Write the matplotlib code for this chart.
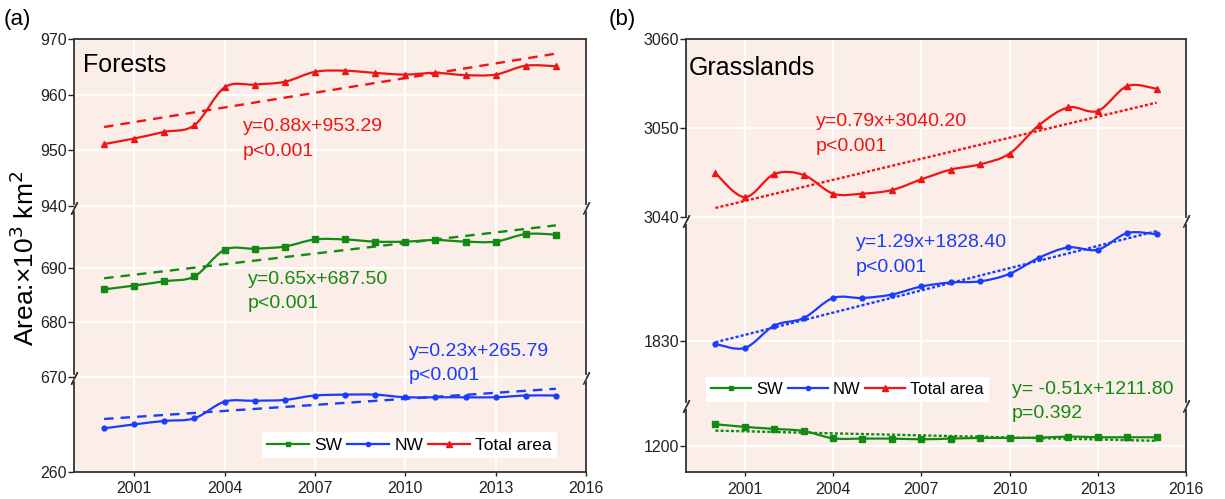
import numpy as np
import matplotlib.pyplot as plt
from matplotlib.path import Path
from matplotlib.patches import PathPatch
from matplotlib.lines import Line2D

plt.rcParams['font.family'] = ['Liberation Sans', 'DejaVu Sans']

years = list(range(2000, 2016))
reg_x = list(range(1, 17))  # x used by the regression equations

# (a) Forests, area in 10^3 km2
forest_total = [951.1, 952.1, 953.3, 954.5, 961.3, 961.8, 962.3, 964.1,
                964.3, 963.9, 963.6, 963.9, 963.5, 963.6, 965.2, 965.1]
forest_sw = [686.1, 686.8, 687.6, 688.5, 693.4, 693.6, 694.0, 695.3,
             695.3, 694.9, 694.9, 695.2, 694.9, 694.9, 696.3, 696.2]
forest_nw = [264.95, 265.4, 265.8, 266.1, 268.0, 268.1, 268.2, 268.7,
             268.8, 268.8, 268.5, 268.5, 268.5, 268.5, 268.7, 268.7]

# (b) Grasslands
grass_total = [3044.9, 3042.2, 3044.8, 3044.7, 3042.6, 3042.6, 3043.0, 3044.2,
               3045.3, 3045.9, 3047.1, 3050.3, 3052.3, 3051.9, 3054.7, 3054.4]
grass_nw = [1829.4, 1828.7, 1832.6, 1833.9, 1837.4, 1837.4, 1838.0, 1839.4,
            1840.1, 1840.3, 1841.6, 1844.4, 1846.2, 1845.8, 1848.7, 1848.5]
grass_sw = [1216.1, 1214.1, 1212.6, 1211.0, 1205.5, 1205.3, 1205.3, 1204.8,
            1205.3, 1205.8, 1205.8, 1206.0, 1206.8, 1206.3, 1206.3, 1206.3]

# linear fits (slope, intercept, p text)
fits = {
    'forest_total': (0.88, 953.29, 'p<0.001'),
    'forest_sw': (0.65, 687.50, 'p<0.001'),
    'forest_nw': (0.23, 265.79, 'p<0.001'),
    'grass_total': (0.79, 3040.20, 'p<0.001'),
    'grass_nw': (1.29, 1828.40, 'p<0.001'),
    'grass_sw': (-0.51, 1211.80, 'p=0.392'),
}

xticks = [2001, 2004, 2007, 2010, 2013, 2016]

RED = '#f01414'
GREEN = '#138a13'
BLUE = '#1a3cff'
BG = '#fbeee8'
SPINE = '#333333'

W, H = 1225, 499
fig = plt.figure(figsize=(W / 100, H / 100), dpi=100)


def add_ax(l, r, top, bot):
    return fig.add_axes([l / W, 1 - bot / H, (r - l) / W, (bot - top) / H])


def smooth_line(ax, x, y, color):
    # Catmull-Rom style bezier through the data points
    x = np.asarray(x, float)
    y = np.asarray(y, float)
    xp = np.r_[x[0], x, x[-1]]
    yp = np.r_[y[0], y, y[-1]]
    verts = [(x[0], y[0])]
    codes = [Path.MOVETO]
    for i in range(len(x) - 1):
        c1 = (x[i] + (xp[i + 2] - xp[i]) / 6, y[i] + (yp[i + 2] - yp[i]) / 6)
        c2 = (x[i + 1] - (xp[i + 3] - xp[i + 1]) / 6,
              y[i + 1] - (yp[i + 3] - yp[i + 1]) / 6)
        verts += [c1, c2, (x[i + 1], y[i + 1])]
        codes += [Path.CURVE4] * 3
    ax.add_patch(PathPatch(Path(verts, codes), fill=False, ec=color, lw=1.6,
                           zorder=3))


def draw_series(ax, y, color, marker, ms, fit, dashes):
    smooth_line(ax, years, y, color)
    ax.plot(years, y, ls='none', marker=marker, ms=ms, color=color, zorder=4)
    k, b, _ = fit
    fx = [years[0], years[-1]]
    fy = [k * reg_x[0] + b, k * reg_x[-1] + b]
    ax.plot(fx, fy, color=color, lw=1.7, dashes=dashes, zorder=3)


def broken_panel(l, r, segs):
    axes = []
    n = len(segs)
    for i, (top, bot, ylim, yt) in enumerate(segs):
        ax = add_ax(l, r, top, bot)
        ax.set_facecolor(BG)
        ax.set_xlim(1999, 2016)
        ax.set_ylim(*ylim)
        ax.set_xticks(xticks)
        ax.set_yticks(yt)
        ax.grid(True, color='white', lw=1.6)
        ax.set_axisbelow(True)
        ax.tick_params(axis='y', direction='out', length=4, width=1,
                       labelsize=11.5, colors='#222222', pad=1)
        ax.tick_params(axis='x', direction='out', length=3, width=1,
                       labelsize=11.5, colors='#222222', pad=4)
        for s in ax.spines.values():
            s.set_color(SPINE)
            s.set_linewidth(1.3)
        gap = (ylim[1] - ylim[0]) / (bot - top) * 4
        lo = ylim[0] + (gap if i < n - 1 else 0)
        hi = ylim[1] - (gap if i > 0 else 0)
        for side in ('left', 'right'):
            ax.spines[side].set_bounds(lo, hi)
        if i < n - 1:
            ax.spines['bottom'].set_visible(False)
            ax.tick_params(axis='x', bottom=False, labelbottom=False)
            ax.plot([0, 1], [0, 0], transform=ax.transAxes, ls='none',
                    marker=[(-0.5, -1), (0.5, 1)], ms=9, mew=1.1,
                    color=SPINE, clip_on=False, zorder=6)
        if i > 0:
            ax.spines['top'].set_visible(False)
            ax.plot([0, 1], [1, 1], transform=ax.transAxes, ls='none',
                    marker=[(-0.5, -1), (0.5, 1)], ms=9, mew=1.1,
                    color=SPINE, clip_on=False, zorder=6)
        axes.append(ax)
    return axes


def fig_text(x, y, s, color='black', size=14):
    fig.text(x / W, 1 - y / H, s, color=color, fontsize=size,
             ha='left', va='center')


# ---- (a) Forests ----
a_up, a_mid, a_low = broken_panel(74, 586, [
    (39, 208, (939.6, 970), [940, 950, 960, 970]),
    (208, 378, (669.76, 701.1), [670, 680, 690]),
    (378, 471.7, (260, 270.7), [260]),
])
draw_series(a_up, forest_total, RED, '^', 5, fits['forest_total'], (4, 3))
draw_series(a_mid, forest_sw, GREEN, 's', 4, fits['forest_sw'], (4, 3))
draw_series(a_low, forest_nw, BLUE, 'o', 3.5, fits['forest_nw'], (4, 3))

# ---- (b) Grasslands ----
b_up, b_mid, b_low = broken_panel(686, 1186, [
    (39, 221, (3039.52, 3060), [3040, 3050, 3060]),
    (221, 406, (1818.6, 1850.8), [1830]),
    (406, 472, (1180.2, 1229.8), [1200]),
])
draw_series(b_up, grass_total, RED, '^', 5, fits['grass_total'], (1.3, 0.9))
draw_series(b_mid, grass_nw, BLUE, 'o', 3.5, fits['grass_nw'], (1.3, 0.9))
draw_series(b_low, grass_sw, GREEN, 's', 4, fits['grass_sw'], (1.3, 0.9))


def eq(key):
    k, b, _ = fits[key]
    if k < 0:
        return 'y= %.2fx+%.2f' % (k, b)
    return 'y=%.2fx+%.2f' % (k, b)


# labels
fig_text(4, 19, '(a)', size=16)
fig_text(609, 19, '(b)', size=16)
fig_text(83, 65, 'Forests', size=18)
fig_text(689, 68, 'Grasslands', size=18)

notes = [
    (243, 127, 'forest_total', RED),
    (248, 280, 'forest_sw', GREEN),
    (409, 352, 'forest_nw', BLUE),
    (816, 122, 'grass_total', RED),
    (856, 243, 'grass_nw', BLUE),
    (1012, 390, 'grass_sw', GREEN),
]
for x, y, key, c in notes:
    fig_text(x, y, eq(key), color=c)
    fig_text(x, y + 24, fits[key][2], color=c)

fig.text(25 / W, 1 - 258 / H, 'Area:×10$^3$ km$^2$', rotation=90,
         fontsize=19, ha='center', va='center')

handles = [
    Line2D([], [], color=GREEN, lw=1.6, marker='s', ms=3.5),
    Line2D([], [], color=BLUE, lw=1.6, marker='o', ms=3),
    Line2D([], [], color=RED, lw=1.6, marker='^', ms=4),
]
names = ['SW', 'NW', 'Total area']
for cx, cy, fs in [(409.5, 445, 12.5), (847.5, 389.5, 12)]:
    leg = fig.legend(handles, names, loc='center', ncol=3,
                     bbox_to_anchor=(cx / W, 1 - cy / H), fontsize=fs,
                     handlelength=2.4, handletextpad=0.3, columnspacing=0.3,
                     borderpad=0.3, frameon=True, fancybox=False)
    leg.get_frame().set_facecolor('white')
    leg.get_frame().set_edgecolor('none')
    leg.get_frame().set_alpha(1)

fig.savefig('out.png', dpi=100)
